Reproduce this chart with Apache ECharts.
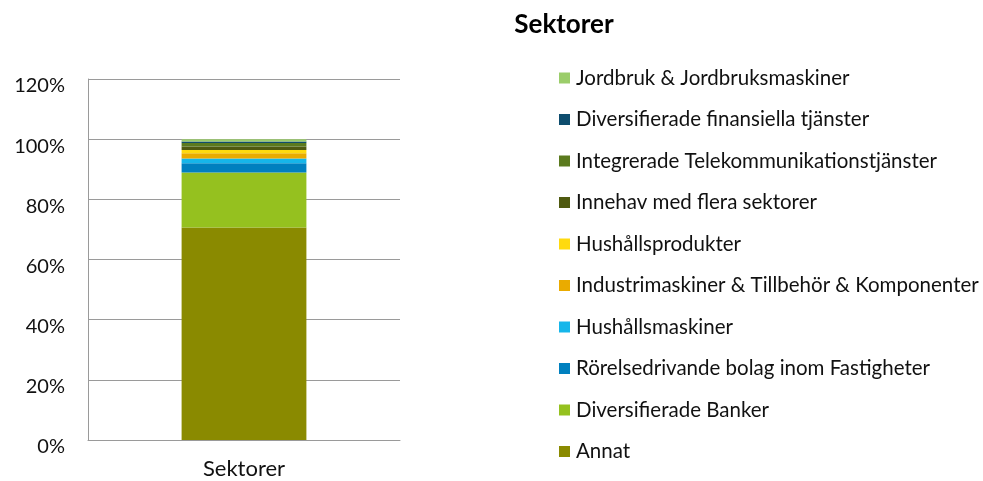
<!DOCTYPE html>
<html>
<head>
<meta charset="utf-8">
<script src="https://cdn.jsdelivr.net/npm/echarts@6/dist/echarts.min.js"></script>
<style>
  html, body { margin: 0; padding: 0; background: #fff; }
  #main { width: 983px; height: 481px; }
</style>
</head>
<body>
<div id="main"></div>
<script>
// Data (bottom of the stack first)
var categories = ['Sektorer'];
var sectorNames = [
  'Annat',
  'Diversifierade Banker',
  'Rörelsedrivande bolag inom Fastigheter',
  'Hushållsmaskiner',
  'Industrimaskiner & Tillbehör & Komponenter',
  'Hushållsprodukter',
  'Innehav med flera sektorer',
  'Integrerade Telekommunikationstjänster',
  'Diversifierade finansiella tjänster',
  'Jordbruk & Jordbruksmaskiner'
];
var sectorValues = [70.6, 18.3, 3.1, 1.6, 1.7, 1.1, 1.2, 1.1, 0.5, 0.8];
var sectorColors = [
  '#8a8a00', '#95c11f', '#0080bf', '#16b6ea', '#eaab00',
  '#ffda0f', '#4f5a10', '#5b7a1e', '#0e4d6e', '#9bcd6a'
];
var yTicks = [0, 20, 40, 60, 80, 100, 120];

var chartDom = document.getElementById('main');
var myChart = echarts.init(chartDom);
var fontFam = "Lato, sans-serif";

var series = sectorNames.map(function (name, i) {
  return {
    name: name,
    type: 'bar',
    stack: 'total',
    barWidth: '40%',
    itemStyle: { color: sectorColors[i] },
    data: [sectorValues[i]]
  };
});

var option = {
  animation: false,
  title: {
    text: 'Sektorer',
    left: 559,
    textAlign: 'center',
    top: 7,
    textStyle: { fontFamily: fontFam, fontSize: 26, fontWeight: 'bold', color: '#000' }
  },
  legend: {
    orient: 'vertical',
    left: 559,
    top: 67,
    padding: 0,
    itemWidth: 11,
    itemHeight: 11,
    itemGap: 19.5,
    icon: 'rect',
    data: sectorNames.slice().reverse(),
    textStyle: { fontFamily: fontFam, fontSize: 20.5, lineHeight: 22, color: '#111', padding: [0, 0, 0, 1] }
  },
  grid: { left: 88, top: 79, width: 312, height: 361, containLabel: false },
  xAxis: {
    type: 'category',
    data: categories,
    axisLine: { lineStyle: { color: '#9a9a9a', width: 1 } },
    axisTick: { show: false },
    axisLabel: { fontFamily: fontFam, fontSize: 22, color: '#111', margin: 18 }
  },
  yAxis: {
    type: 'value',
    min: yTicks[0],
    max: yTicks[yTicks.length - 1],
    interval: 20,
    axisLine: { show: true, lineStyle: { color: '#9a9a9a' } },
    axisTick: { show: false },
    splitLine: { lineStyle: { color: '#9a9a9a', width: 1 } },
    axisLabel: {
      fontFamily: fontFam, fontSize: 20, color: '#111', margin: 23,
      verticalAlign: 'top',
      lineHeight: 14,
      formatter: function (v) { return v + '%'; }
    }
  },
  series: series
};

option && myChart.setOption(option);
</script>
</body>
</html>
